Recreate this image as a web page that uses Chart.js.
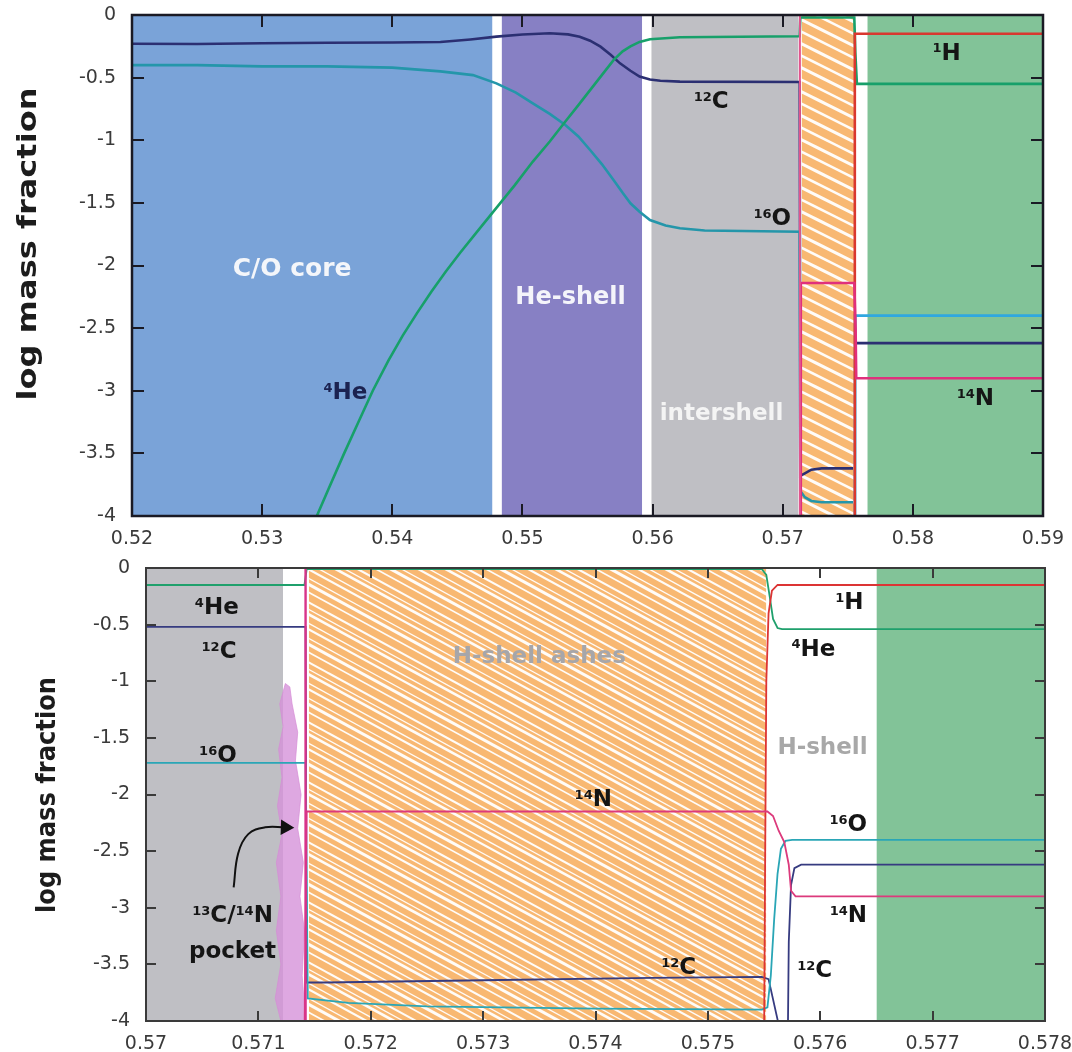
<!DOCTYPE html>
<html>
<head>
<meta charset="utf-8">
<script src="https://cdn.jsdelivr.net/npm/chart.js@4.4.1/dist/chart.umd.min.js"></script>
<style>
  html, body { margin: 0; padding: 0; background: #fff; overflow: hidden; width: 1072px; height: 1052px; }
  canvas { position: absolute; left: 0; }
  #upper { top: 0; }
  #lower { top: 552px; }
</style>
</head>
<body>
<canvas id="upper" width="1072" height="552"></canvas>
<canvas id="lower" width="1072" height="510"></canvas>
<script>
// ---- data ----
// zone boundaries in mass coordinate (shared by both panels):
// C/O core, He-shell, intershell, H-shell ashes, envelope
const zoneStart = [0.520, 0.5484, 0.5599, 0.57145, 0.5765];
const zoneEnd   = [0.5477, 0.5592, 0.57122, 0.57552, 0.600];

const yTicks  = [-4, -3.5, -3, -2.5, -2, -1.5, -1, -0.5, 0];
const yLabels = ['-4', '-3.5', '-3', '-2.5', '-2', '-1.5', '-1', '-0.5', '0'];
const topXTicks  = [0.52, 0.53, 0.54, 0.55, 0.56, 0.57, 0.58, 0.59];
const topXLabels = ['0.52', '0.53', '0.54', '0.55', '0.56', '0.57', '0.58', '0.59'];
const botXTicks  = [0.570, 0.571, 0.572, 0.573, 0.574, 0.575, 0.576, 0.577, 0.578];
const botXLabels = ['0.57', '0.571', '0.572', '0.573', '0.574', '0.575', '0.576', '0.577', '0.578'];

// upper panel profiles, [mass, log X]; y null breaks the line
const topC12 = [[0.520,-0.23],[0.525,-0.232],[0.530,-0.225],[0.535,-0.222],[0.540,-0.22],[0.5437,-0.216],
  [0.5460,-0.195],[0.5480,-0.173],[0.5500,-0.156],[0.5521,-0.146],[0.5535,-0.155],[0.5544,-0.173],
  [0.5552,-0.205],[0.5560,-0.253],[0.5568,-0.32],[0.5575,-0.386],[0.5583,-0.445],[0.5590,-0.492],
  [0.5598,-0.515],[0.5606,-0.525],[0.5621,-0.532],[0.5713,-0.535],[0.57135,-3.68],
  [0.5717,-3.66],[0.5722,-3.63],[0.5730,-3.62],[0.5754,-3.62],[0.5755,null],[0.5757,-2.62],[0.5900,-2.62]];
const topO16 = [[0.520,-0.40],[0.525,-0.40],[0.530,-0.41],[0.535,-0.41],[0.540,-0.42],[0.5437,-0.45],
  [0.5462,-0.48],[0.5480,-0.546],[0.5495,-0.62],[0.5508,-0.705],[0.5521,-0.79],[0.5533,-0.878],
  [0.5543,-0.97],[0.5552,-1.078],[0.5561,-1.19],[0.5570,-1.317],[0.5577,-1.42],[0.5583,-1.503],
  [0.5590,-1.57],[0.5598,-1.637],[0.5610,-1.68],[0.5621,-1.703],[0.5640,-1.72],[0.5713,-1.73],
  [0.57135,-3.80],[0.5717,-3.85],[0.5722,-3.88],[0.5730,-3.89],[0.5754,-3.89]];
const topO16Env = [[0.57555,-4.2],[0.57557,-2.40],[0.5900,-2.40]];
const topHe4 = [[0.5342,-4.0],[0.5352,-3.76],[0.5363,-3.5],[0.5374,-3.25],[0.5385,-3.0],[0.5397,-2.76],
  [0.5408,-2.56],[0.5419,-2.38],[0.5430,-2.21],[0.5441,-2.05],[0.5452,-1.90],[0.5466,-1.72],
  [0.5480,-1.54],[0.5494,-1.36],[0.5508,-1.17],[0.5521,-1.01],[0.5533,-0.85],[0.5543,-0.72],
  [0.5552,-0.60],[0.5561,-0.48],[0.5570,-0.36],[0.5577,-0.29],[0.5583,-0.25],[0.5590,-0.215],
  [0.5598,-0.194],[0.5621,-0.178],[0.5713,-0.17],[0.57135,-0.02],[0.5755,-0.02],[0.57558,-0.3],
  [0.5757,-0.55],[0.5900,-0.55]];
const topN14 = [[0.57137,-4.2],[0.57139,-2.14],[0.5755,-2.14],[0.5756,-2.5],[0.57565,-2.9],[0.5900,-2.9]];
const topH1 = [[0.57552,-4.2],[0.57554,-0.15],[0.5900,-0.15]];
const topEdge = [[0.57132,0],[0.57132,-4]];

// lower panel profiles (zoom on the H-shell region)
const botHe4 = [[0.5700,-0.15],[0.57141,-0.15],[0.57143,-0.01],[0.57548,-0.01],[0.57552,-0.06],
  [0.57555,-0.25],[0.57558,-0.45],[0.57562,-0.53],[0.57566,-0.54],[0.5780,-0.54]];
const botC12 = [[0.5700,-0.52],[0.57142,-0.52],[0.57143,-3.66],[0.5716,-3.66],[0.5730,-3.64],
  [0.5745,-3.62],[0.57548,-3.61],[0.57554,-3.63],[0.57569,-4.3],[0.5757,null],[0.57571,-4.3],
  [0.57572,-3.3],[0.57574,-2.8],[0.57577,-2.65],[0.57583,-2.62],[0.5780,-2.62]];
const botO16 = [[0.5700,-1.72],[0.57142,-1.72],[0.57144,-3.80],[0.5718,-3.84],[0.5725,-3.87],
  [0.5740,-3.89],[0.57548,-3.90],[0.57553,-3.88],[0.57556,-3.6],[0.57559,-3.1],[0.57562,-2.7],
  [0.57565,-2.48],[0.57569,-2.41],[0.57575,-2.40],[0.5780,-2.40]];
const botN14 = [[0.57141,-4.2],[0.57143,-2.15],[0.57553,-2.15],[0.57558,-2.19],[0.57563,-2.32],
  [0.57568,-2.42],[0.57572,-2.62],[0.57574,-2.85],[0.57578,-2.9],[0.5780,-2.9]];
const botH1 = [[0.57550,-4.2],[0.57551,-2.5],[0.57552,-1.0],[0.57554,-0.4],[0.57557,-0.2],
  [0.57562,-0.15],[0.5780,-0.15]];
const botEdge = [[0.57142,0],[0.57142,-4]];
// outline of the 13C/14N pocket cloud
const botPocket = [[0.57124,-1.02],[0.57119,-1.2],[0.57122,-1.4],[0.57118,-1.6],[0.57121,-1.85],
  [0.57117,-2.1],[0.57121,-2.35],[0.57116,-2.6],[0.57120,-2.9],[0.57116,-3.2],[0.57120,-3.5],
  [0.57115,-3.8],[0.57120,-4.0],[0.57142,-4.0],[0.57139,-3.6],[0.57141,-3.2],[0.57137,-2.9],
  [0.57140,-2.6],[0.57135,-2.3],[0.57138,-2.0],[0.57133,-1.7],[0.57135,-1.45],[0.57130,-1.2],
  [0.57128,-1.05],[0.57124,-1.02]];
const botArrow = [[0.57078,-2.82],[0.57082,-2.52],[0.57091,-2.35],[0.57106,-2.29],[0.57124,-2.29]];

// text annotations, [mass, log X] of the label centre
const topNotes = [
  { at: [0.5323, -2.01], parts: [['', 'C/O core']], color: '#f4f6fa', size: 25 },
  { at: [0.5537, -2.24], parts: [['', 'He-shell']], color: '#f4f4fa', size: 24 },
  { at: [0.5653, -3.17], parts: [['', 'intershell']], color: '#f4f4f4', size: 23 },
  { at: [0.5364, -3.0], parts: [['4', 'He']], color: '#1b2250', size: 23 },
  { at: [0.5645, -0.68], parts: [['12', 'C']], color: '#151515', size: 23 },
  { at: [0.5692, -1.61], parts: [['16', 'O']], color: '#151515', size: 23 },
  { at: [0.5826, -0.29], parts: [['1', 'H']], color: '#151515', size: 23 },
  { at: [0.5848, -3.05], parts: [['14', 'N']], color: '#151515', size: 23 }
];
const botNotes = [
  { at: [0.57063, -0.33], parts: [['4', 'He']], color: '#151515', size: 23 },
  { at: [0.57065, -0.72], parts: [['12', 'C']], color: '#151515', size: 23 },
  { at: [0.57064, -1.64], parts: [['16', 'O']], color: '#151515', size: 23 },
  { at: [0.57077, -3.05], parts: [['13', 'C/'], ['14', 'N']], color: '#151515', size: 23 },
  { at: [0.57077, -3.37], parts: [['', 'pocket']], color: '#151515', size: 23 },
  { at: [0.5735, -0.77], parts: [['', 'H-shell ashes']], color: '#a6a6aa', size: 23 },
  { at: [0.57398, -2.03], parts: [['14', 'N']], color: '#151515', size: 23 },
  { at: [0.57474, -3.51], parts: [['12', 'C']], color: '#151515', size: 23 },
  { at: [0.57626, -0.29], parts: [['1', 'H']], color: '#151515', size: 23 },
  { at: [0.57594, -0.70], parts: [['4', 'He']], color: '#151515', size: 23 },
  { at: [0.57602, -1.57], parts: [['', 'H-shell']], color: '#a8a8a8', size: 23 },
  { at: [0.57625, -2.25], parts: [['16', 'O']], color: '#151515', size: 23 },
  { at: [0.57625, -3.05], parts: [['14', 'N']], color: '#151515', size: 23 },
  { at: [0.57595, -3.54], parts: [['12', 'C']], color: '#151515', size: 23 }
];

// ---- helpers ----
function makeHatch(w, h, offsets, widths) {
  const c = document.createElement('canvas');
  c.width = w; c.height = h;
  const g = c.getContext('2d');
  g.fillStyle = '#f8b872';
  g.fillRect(0, 0, w, h);
  g.strokeStyle = 'rgba(255,255,255,0.95)';
  offsets.forEach((k, i) => {
    g.lineWidth = widths[i];
    [-h, 0, h].forEach(s => {
      g.beginPath();
      g.moveTo(-w * 0.2, k + s - h * 0.2);
      g.lineTo(w * 1.2, k + s + h * 1.2);
      g.stroke();
    });
  });
  return g.createPattern(c, 'repeat');
}

function curve(pts, color, width) {
  return {
    data: pts.map(p => ({ x: p[0], y: p[1] })),
    borderColor: color, borderWidth: width,
    pointRadius: 0, fill: false, tension: 0, order: 1
  };
}

function zoneSets(colors) {
  return zoneStart.map((s, i) => ({
    data: [{ x: s, y: 0 }, { x: zoneEnd[i], y: 0 }],
    borderColor: 'rgba(0,0,0,0)', borderWidth: 0, pointRadius: 0,
    fill: 'start', backgroundColor: colors[i], order: 5
  }));
}

// inward tick marks on all four sides plus the frame
const frameTicks = {
  id: 'frameTicks',
  afterDatasetsDraw(chart, args, opts) {
    const { ctx, chartArea: a, scales: { x, y } } = chart;
    ctx.save();
    ctx.strokeStyle = opts.color;
    ctx.lineWidth = opts.tickWidth;
    ctx.beginPath();
    x.ticks.forEach(t => {
      const px = Math.round(x.getPixelForValue(t.value));
      if (px <= a.left + 2 || px >= a.right - 2) return;
      ctx.moveTo(px, a.bottom); ctx.lineTo(px, a.bottom - opts.len);
      ctx.moveTo(px, a.top); ctx.lineTo(px, a.top + opts.len);
    });
    y.ticks.forEach(t => {
      const py = Math.round(y.getPixelForValue(t.value));
      if (py <= a.top + 2 || py >= a.bottom - 2) return;
      ctx.moveTo(a.left, py); ctx.lineTo(a.left + opts.len, py);
      ctx.moveTo(a.right, py); ctx.lineTo(a.right - opts.len, py);
    });
    ctx.stroke();
    ctx.lineWidth = opts.frameWidth;
    ctx.strokeRect(a.left, a.top, a.right - a.left, a.bottom - a.top);
    ctx.restore();
  }
};

// labels with superscript mass numbers
const textMarks = {
  id: 'textMarks',
  afterDatasetsDraw(chart, args, opts) {
    const { ctx, scales: { x, y } } = chart;
    ctx.save();
    ctx.textAlign = 'left';
    ctx.textBaseline = 'alphabetic';
    opts.items.forEach(it => {
      const mainFont = 'bold ' + it.size + 'px "DejaVu Sans"';
      const supFont = 'bold ' + Math.round(it.size * 0.58) + 'px "DejaVu Sans"';
      let total = 0;
      it.parts.forEach(([s, m]) => {
        ctx.font = supFont; total += s ? ctx.measureText(s).width : 0;
        ctx.font = mainFont; total += ctx.measureText(m).width;
      });
      let cx = x.getPixelForValue(it.at[0]) - total / 2;
      const base = y.getPixelForValue(it.at[1]) + it.size * 0.36;
      ctx.fillStyle = it.color;
      it.parts.forEach(([s, m]) => {
        if (s) {
          ctx.font = supFont;
          ctx.fillText(s, cx, base - it.size * 0.31);
          cx += ctx.measureText(s).width;
        }
        ctx.font = mainFont;
        ctx.fillText(m, cx, base);
        cx += ctx.measureText(m).width;
      });
    });
    ctx.restore();
  }
};

// rotated y-axis title, stretched along its length like the original
const sideTitle = {
  id: 'sideTitle',
  afterDraw(chart, args, opts) {
    const ctx = chart.ctx;
    ctx.save();
    ctx.font = 'bold ' + opts.size + 'px "DejaVu Sans"';
    const w = ctx.measureText(opts.text).width;
    ctx.translate(opts.x, opts.y);
    ctx.rotate(-Math.PI / 2);
    ctx.scale(opts.length / w, 1);
    ctx.textAlign = 'center';
    ctx.textBaseline = 'middle';
    ctx.fillStyle = opts.color;
    ctx.fillText(opts.text, 0, 0);
    ctx.restore();
  }
};

function scalesFor(xmin, xmax, xTicks, xLabels, yWidth, xHeight) {
  return {
    x: {
      type: 'linear', min: xmin, max: xmax,
      grid: { display: false, drawTicks: false }, border: { display: false },
      afterBuildTicks: s => { s.ticks = xTicks.map(v => ({ value: v })); },
      afterFit: s => { s.height = xHeight; s.paddingLeft = 0; s.paddingRight = 0; },
      ticks: {
        callback: (v, i) => xLabels[i], autoSkip: false, maxRotation: 0, padding: 12,
        color: '#3a3a3a', font: { family: 'DejaVu Sans', size: 19 }
      }
    },
    y: {
      type: 'linear', min: -4, max: 0,
      grid: { display: false, drawTicks: false }, border: { display: false },
      afterBuildTicks: s => { s.ticks = yTicks.map(v => ({ value: v })); },
      afterFit: s => { s.width = yWidth; s.paddingTop = 0; s.paddingBottom = 0; },
      ticks: {
        callback: (v, i) => yLabels[i], autoSkip: false, padding: 16,
        color: '#3a3a3a', font: { family: 'DejaVu Sans', size: 19 }
      }
    }
  };
}

Chart.defaults.animation = false;
Chart.defaults.devicePixelRatio = 1;

// ---- upper panel ----
const topHatch = makeHatch(48, 24, [3, 15], [3, 2.5]);
const topZones = zoneSets(['#7aa3d8', '#8780c4', '#bfbfc4', topHatch, '#82c398']);

new Chart(document.getElementById('upper'), {
  type: 'line',
  data: {
    datasets: [
      ...topZones,
      curve(topEdge, '#e2558e', 2),
      curve(topN14, '#e0307c', 2.6),
      curve(topH1, '#d9382f', 2.6),
      curve(topHe4, '#17a06a', 2.6),
      curve(topO16, '#2496aa', 2.6),
      curve(topO16Env, '#2fa8e0', 2.8),
      curve(topC12, '#2b2f72', 2.6)
    ]
  },
  options: {
    responsive: false,
    layout: { padding: { top: 15, right: 29, left: 0, bottom: 0 } },
    scales: scalesFor(0.52, 0.59, topXTicks, topXLabels, 132, 36),
    plugins: {
      legend: { display: false },
      tooltip: { enabled: false },
      frameTicks: { color: '#1a1a24', tickWidth: 2, frameWidth: 2.5, len: 12 },
      textMarks: { items: topNotes },
      sideTitle: { text: 'log mass fraction', x: 29, y: 244, length: 313, size: 26, color: '#1c1c1c' }
    }
  },
  plugins: [frameTicks, textMarks, sideTitle]
});

// ---- lower panel ----
const botHatch = makeHatch(110, 60, [2, 9, 14, 23, 29, 38, 44, 52], [2, 1.2, 2.8, 1.5, 2.2, 1.2, 3, 1.6]);
const botZones = zoneSets(['#7aa3d8', '#8780c4', '#bfbfc4', botHatch, '#82c398']);

const pocketSet = curve(botPocket, 'rgba(214,140,214,0.7)', 1);
pocketSet.fill = 'shape';
pocketSet.backgroundColor = 'rgba(214,146,218,0.8)';
pocketSet.order = 3;

const arrowSet = curve(botArrow, '#111', 2);
arrowSet.tension = 0.4;
arrowSet.order = 0;
arrowSet.pointRadius = botArrow.map((p, i) => i === botArrow.length - 1 ? 7 : 0);
arrowSet.pointStyle = 'triangle';
arrowSet.pointRotation = 92;
arrowSet.pointBackgroundColor = '#111';
arrowSet.pointBorderColor = '#111';

new Chart(document.getElementById('lower'), {
  type: 'line',
  data: {
    datasets: [
      ...botZones,
      pocketSet,
      curve(botEdge, '#d8348a', 2.4),
      curve(botN14, '#dc3a7c', 1.8),
      curve(botH1, '#dc3434', 1.8),
      curve(botHe4, '#1fa06c', 1.8),
      curve(botO16, '#2aa6b6', 1.8),
      curve(botC12, '#363b80', 1.8),
      arrowSet
    ]
  },
  options: {
    responsive: false,
    layout: { padding: { top: 16, right: 27, left: 0, bottom: 0 } },
    scales: scalesFor(0.570, 0.578, botXTicks, botXLabels, 146, 41),
    plugins: {
      legend: { display: false },
      tooltip: { enabled: false },
      frameTicks: { color: '#3a3a3a', tickWidth: 2, frameWidth: 2, len: 10 },
      textMarks: { items: botNotes },
      sideTitle: { text: 'log mass fraction', x: 48, y: 243, length: 236, size: 26, color: '#1c1c1c' }
    }
  },
  plugins: [frameTicks, textMarks, sideTitle]
});
</script>
</body>
</html>
